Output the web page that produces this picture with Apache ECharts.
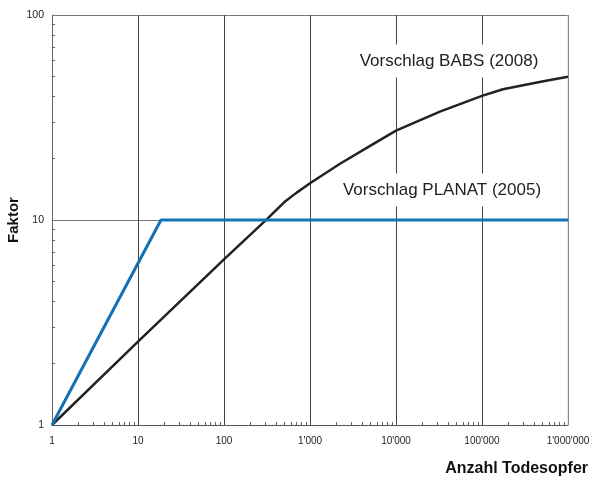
<!DOCTYPE html>
<html>
<head>
<meta charset="utf-8">
<script src="https://cdn.jsdelivr.net/npm/echarts@6/dist/echarts.min.js"></script>
<style>
  html, body { margin: 0; padding: 0; background: #fff; }
  #chart { width: 591px; height: 479px; }
</style>
</head>
<body>
<div id="chart"></div>
<script>
// Number of fatalities (x) vs. aversion factor (y), both logarithmic
const planatX = [1, 18.5, 1000000];
const planatY = [1, 10, 10];

const babsX = [1, 10, 100, 316, 500, 700, 1000, 2233, 5000, 10000, 32400, 100000, 175000, 500000, 1000000];
const babsY = [1, 2.55, 6.43, 10.1, 12.2, 13.6, 15.1, 18.8, 23, 27.3, 33.8, 40.3, 43.4, 47.4, 50];

const xTickLabels = ['1', '10', '100', "1'000", "10'000", "100'000", "1'000'000"];
const yTickLabels = ['1', '10', '100'];

// minor tick positions (2..9 within each decade)
function minorValues(lo, hi) {
  const out = [];
  for (let d = lo; d < hi; d *= 10) {
    for (let k = 2; k <= 9; k++) out.push(d * k);
  }
  return out;
}

const pairs = (xs, ys) => xs.map((x, i) => [x, ys[i]]);

const xLabelFor = v => xTickLabels[Math.round(Math.log10(v))] || '';
const yLabelFor = v => yTickLabels[Math.round(Math.log10(v))] || '';

const FONT = '"Liberation Sans", Arial, sans-serif';

const chart = echarts.init(document.getElementById('chart'), null, { renderer: 'canvas' });

chart.setOption({
  animation: false,
  backgroundColor: '#fff',
  grid: { left: 52, right: 23, top: 15, bottom: 54, containLabel: false, outerBoundsMode: 'none' },
  xAxis: [
    {
      type: 'log', logBase: 10, min: 1, max: 1000000,
      axisLine: { show: true, lineStyle: { color: '#555', width: 1 } },
      axisTick: { show: false },
      axisLabel: { color: '#222', fontFamily: FONT, fontSize: 10, margin: 11, formatter: xLabelFor },
      splitLine: { show: true, lineStyle: { color: '#444', width: 1 } }
    },
    {
      type: 'log', logBase: 10, min: 1, max: 1000000, position: 'bottom',
      axisLine: { show: false },
      axisLabel: { show: false },
      splitLine: { show: false },
      axisTick: { show: true, inside: true, length: 3, customValues: minorValues(1, 1000000),
        lineStyle: { color: '#666', width: 1 } }
    }
  ],
  yAxis: [
    {
      type: 'log', logBase: 10, min: 1, max: 100,
      axisLine: { show: true, lineStyle: { color: '#666', width: 1 } },
      axisTick: { show: false },
      axisLabel: { color: '#222', fontFamily: FONT, fontSize: 10.5, margin: 8, formatter: yLabelFor },
      splitLine: { show: true, lineStyle: { color: '#777', width: 1 } }
    },
    {
      type: 'log', logBase: 10, min: 1, max: 100, position: 'left',
      axisLine: { show: false },
      axisLabel: { show: false },
      splitLine: { show: false },
      axisTick: { show: true, inside: true, length: 3, customValues: minorValues(1, 100),
        lineStyle: { color: '#666', width: 1 } }
    }
  ],
  series: [
    {
      name: 'Vorschlag BABS (2008)',
      type: 'line',
      data: pairs(babsX, babsY),
      smooth: false,
      showSymbol: false,
      lineStyle: { color: '#222', width: 2.5, join: 'round' },
      z: 3
    },
    {
      name: 'Vorschlag PLANAT (2005)',
      type: 'line',
      data: pairs(planatX, planatY),
      showSymbol: false,
      lineStyle: { color: '#1272b6', width: 3 },
      z: 4
    }
  ],
  graphic: [
    // right border of the plot area
    { type: 'line', shape: { x1: 568, y1: 15, x2: 568, y2: 425 }, style: { stroke: '#ccc', lineWidth: 1 }, z: 1 },
    {
      type: 'text', x: 449, y: 61, z: 10,
      style: { text: 'Vorschlag BABS (2008)', font: '17px ' + FONT, fill: '#222',
        align: 'center', verticalAlign: 'middle', backgroundColor: '#fff', padding: [8, 4, 8, 4] }
    },
    {
      type: 'text', x: 442, y: 190, z: 10,
      style: { text: 'Vorschlag PLANAT (2005)', font: '17px ' + FONT, fill: '#222',
        align: 'center', verticalAlign: 'middle', backgroundColor: '#fff', padding: [8, 4, 8, 4] }
    },
    {
      type: 'text', x: 588, y: 469,
      style: { text: 'Anzahl Todesopfer', font: 'bold 16px ' + FONT, fill: '#111',
        align: 'right', verticalAlign: 'middle' }
    },
    {
      type: 'text', x: 14, y: 220, rotation: Math.PI / 2,
      style: { text: 'Faktor', font: 'bold 15px ' + FONT, fill: '#111',
        align: 'center', verticalAlign: 'middle' }
    }
  ]
});
</script>
</body>
</html>
